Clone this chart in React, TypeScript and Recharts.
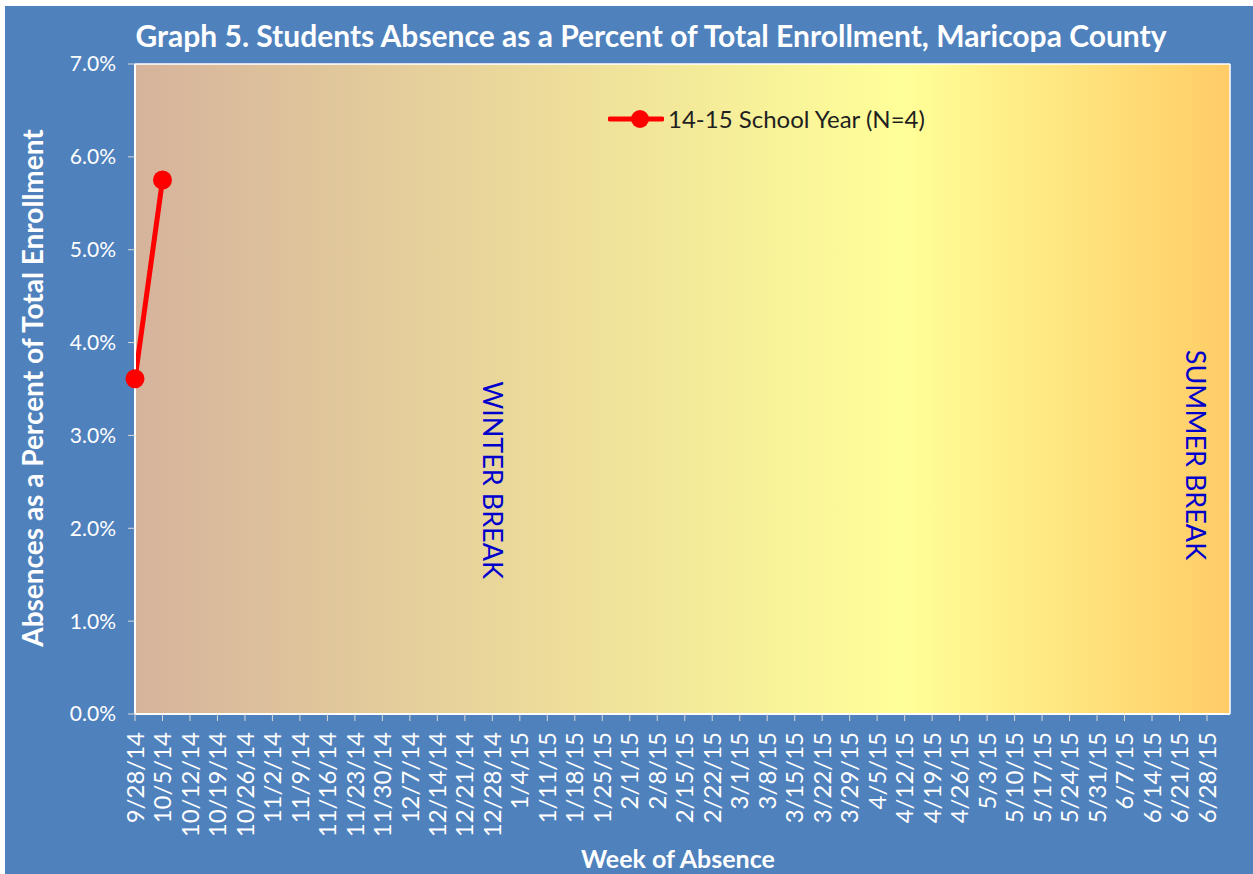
import React from 'react';
import { LineChart, Line, XAxis, YAxis, CartesianGrid, ReferenceDot } from 'recharts';

const weeks = [
  '9/28/14', '10/5/14', '10/12/14', '10/19/14', '10/26/14', '11/2/14', '11/9/14', '11/16/14',
  '11/23/14', '11/30/14', '12/7/14', '12/14/14', '12/21/14', '12/28/14', '1/4/15', '1/11/15',
  '1/18/15', '1/25/15', '2/1/15', '2/8/15', '2/15/15', '2/22/15', '3/1/15', '3/8/15',
  '3/15/15', '3/22/15', '3/29/15', '4/5/15', '4/12/15', '4/19/15', '4/26/15', '5/3/15',
  '5/10/15', '5/17/15', '5/24/15', '5/31/15', '6/7/15', '6/14/15', '6/21/15', '6/28/15',
];

// percent absent, only the first two weeks reported
const absence1415 = [3.61, 5.75];

const yTicks = [0, 1, 2, 3, 4, 5, 6, 7];

const breaks = [
  { label: 'WINTER BREAK', week: '12/28/14', at: 2.52, shift: 0 },
  { label: 'SUMMER BREAK', week: '6/28/15', at: 2.79, shift: -11 },
];

const FONT = 'Lato, "Open Sans", sans-serif';

const chartData = weeks.map((week, i) => ({
  week,
  y1415: i < absence1415.length ? absence1415[i] : null,
}));

const WeekTick = (props: any) => {
  const { x, y, payload } = props;
  return (
    <text
      transform={`translate(${x},${y + 9}) rotate(-90)`}
      textAnchor="end"
      dy="0.36em"
      fill="#fff"
      fontSize={24}
      fontFamily={FONT}
    >
      {payload.value}
    </text>
  );
};

const breakLabel = (label: string, shift: number) => (props: any) => (
  <text
    transform={`translate(${props.cx + shift},${props.cy}) rotate(90)`}
    textAnchor="middle"
    dy="0.36em"
    fill="#0000CC"
    fontSize={27}
    fontFamily={FONT}
  >
    {label}
  </text>
);

export default function App() {
  return (
    <div style={{ position: 'absolute', left: 5, top: 6, width: 1248, height: 868, background: '#4F81BD' }}>
      <svg width={0} height={0} style={{ position: 'absolute' }}>
        <defs>
          <linearGradient id="plotBg" x1="0" y1="0" x2="1" y2="0">
            <stop offset="0" stopColor="#D6B39C" />
            <stop offset="0.7" stopColor="#FFFF99" />
            <stop offset="1" stopColor="#FFCC66" />
          </linearGradient>
        </defs>
      </svg>

      <div
        style={{
          position: 'absolute', left: 0, width: 1292, top: 11, textAlign: 'center',
          color: '#fff', fontFamily: FONT, fontWeight: 700, fontSize: 30, whiteSpace: 'nowrap',
        }}
      >
        Graph 5. Students Absence as a Percent of Total Enrollment, Maricopa County
      </div>

      <LineChart
        width={1248}
        height={868}
        data={chartData}
        margin={{ top: 58, right: 23, bottom: 0, left: 0 }}
      >
        <CartesianGrid
          fill="url(#plotBg)"
          stroke="#fff"
          strokeWidth={1.5}
          horizontalCoordinatesGenerator={({ offset }: any) => [offset.top]}
          verticalCoordinatesGenerator={({ offset }: any) => [offset.left + offset.width]}
        />
        <XAxis
          dataKey="week"
          interval={0}
          height={160}
          padding={{ left: 0, right: 23 }}
          axisLine={{ stroke: '#fff', strokeWidth: 2 }}
          tickLine={{ stroke: '#D9D9D9' }}
          tickSize={7}
          tick={<WeekTick />}
        />
        <YAxis
          width={130}
          domain={[0, 7]}
          ticks={yTicks}
          interval={0}
          tickFormatter={(v: number) => `${v.toFixed(1)}%`}
          axisLine={{ stroke: '#fff', strokeWidth: 2 }}
          tickLine={{ stroke: '#D9D9D9' }}
          tickSize={7}
          tickMargin={12}
          tick={{ fill: '#fff', fontSize: 21, fontFamily: FONT }}
        />
        {breaks.map((b) => (
          <ReferenceDot
            key={b.label}
            x={b.week}
            y={b.at}
            shape={breakLabel(b.label, b.shift)}
          />
        ))}
        <Line
          dataKey="y1415"
          stroke="#FF0000"
          strokeWidth={5}
          dot={{ r: 9.5, fill: '#FF0000', stroke: '#FF0000', strokeWidth: 0 }}
          connectNulls={false}
          isAnimationActive={false}
        />
      </LineChart>

      <div style={{ position: 'absolute', left: 27, top: 382, width: 0, height: 0 }}>
        <div
          style={{
            position: 'absolute', transform: 'translate(-50%,-50%) rotate(-90deg)',
            color: '#fff', fontFamily: FONT, fontWeight: 700, fontSize: 28, whiteSpace: 'nowrap',
          }}
        >
          Absences as a Percent of Total Enrollment
        </div>
      </div>

      <div style={{ position: 'absolute', left: 673, top: 852, width: 0, height: 0 }}>
        <div
          style={{
            position: 'absolute', transform: 'translate(-50%,-50%)',
            color: '#fff', fontFamily: FONT, fontWeight: 700, fontSize: 25, whiteSpace: 'nowrap',
          }}
        >
          Week of Absence
        </div>
      </div>

      <div
        style={{
          position: 'absolute', left: 603, top: 98, display: 'flex', alignItems: 'center',
          fontFamily: FONT, fontSize: 24, color: '#1F1F1F', whiteSpace: 'nowrap',
        }}
      >
        <svg width={56} height={28}>
          <line x1={2} y1={14} x2={54} y2={14} stroke="#FF0000" strokeWidth={5} strokeLinecap="round" />
          <circle cx={32} cy={14} r={9} fill="#FF0000" />
        </svg>
        <span style={{ marginLeft: 4 }}>14-15 School Year (N=4)</span>
      </div>
    </div>
  );
}
